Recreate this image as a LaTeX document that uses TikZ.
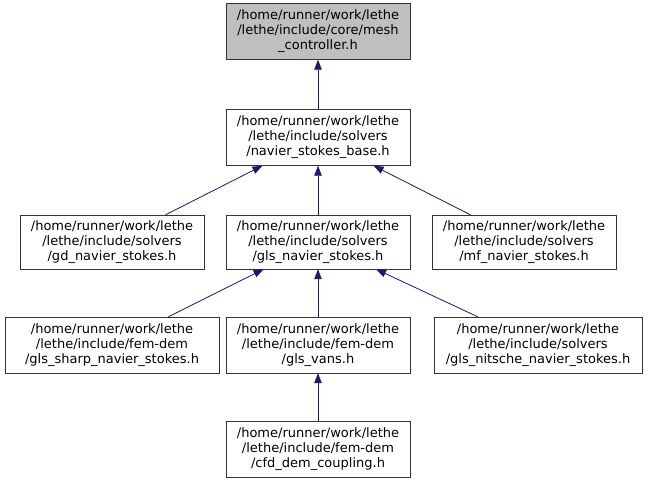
\documentclass[tikz,border=0pt]{standalone}
\usepackage{fontspec}
\setmainfont{DejaVu Sans}
\usetikzlibrary{arrows.meta}
\definecolor{edgeblue}{HTML}{191970}
\definecolor{boxgray}{HTML}{BFBFBF}
\tikzset{
	file/.style={draw=black!80, fill=white, minimum width=184pt, minimum height=56pt,
		inner sep=0pt, align=center, font=\fontsize{13}{15}\selectfont},
	incl/.style={draw=edgeblue, line width=0.8pt, -{Triangle[length=10pt,width=7.5pt]}}
}
\begin{document}
\begin{tikzpicture}[x=1pt,y=-1pt]
		\useasboundingbox (0,0) rectangle (648,483);
		
		\node[file, fill=boxgray] (mesh) at (318,31.5) {/home/runner/work/lethe\\/lethe/include/core/mesh\\\_controller.h};
		\node[file] (base) at (318,137.5) {/home/runner/work/lethe\\/lethe/include/solvers\\/navier\_stokes\_base.h};
		
		\node[file, minimum height=54pt] (gd) at (112,242) {/home/runner/work/lethe\\/lethe/include/solvers\\/gd\_navier\_stokes.h};
		\node[file, minimum height=54pt] (gls) at (318,242) {/home/runner/work/lethe\\/lethe/include/solvers\\/gls\_navier\_stokes.h};
		\node[file, minimum height=54pt] (mf) at (524,242) {/home/runner/work/lethe\\/lethe/include/solvers\\/mf\_navier\_stokes.h};
		
		\node[file, minimum width=214pt] (sharp) at (112,345) {/home/runner/work/lethe\\/lethe/include/fem-dem\\/gls\_sharp\_navier\_stokes.h};
		\node[file] (vans) at (318,345) {/home/runner/work/lethe\\/lethe/include/fem-dem\\/gls\_vans.h};
		\node[file, minimum width=208pt] (nitsche) at (538,345) {/home/runner/work/lethe\\/lethe/include/solvers\\/gls\_nitsche\_navier\_stokes.h};
		
		\node[file] (cfd) at (318,449) {/home/runner/work/lethe\\/lethe/include/fem-dem\\/cfd\_dem\_coupling.h};
		
		\draw[incl] (base) -- (mesh);
		\draw[incl] (gd) -- (base);
		\draw[incl] (gls) -- (base);
		\draw[incl] (mf) -- (base);
		\draw[incl] (sharp) -- (gls);
		\draw[incl] (vans) -- (gls);
		\draw[incl] (nitsche) -- (gls);
		\draw[incl] (cfd) -- (vans);
\end{tikzpicture}
\end{document}
